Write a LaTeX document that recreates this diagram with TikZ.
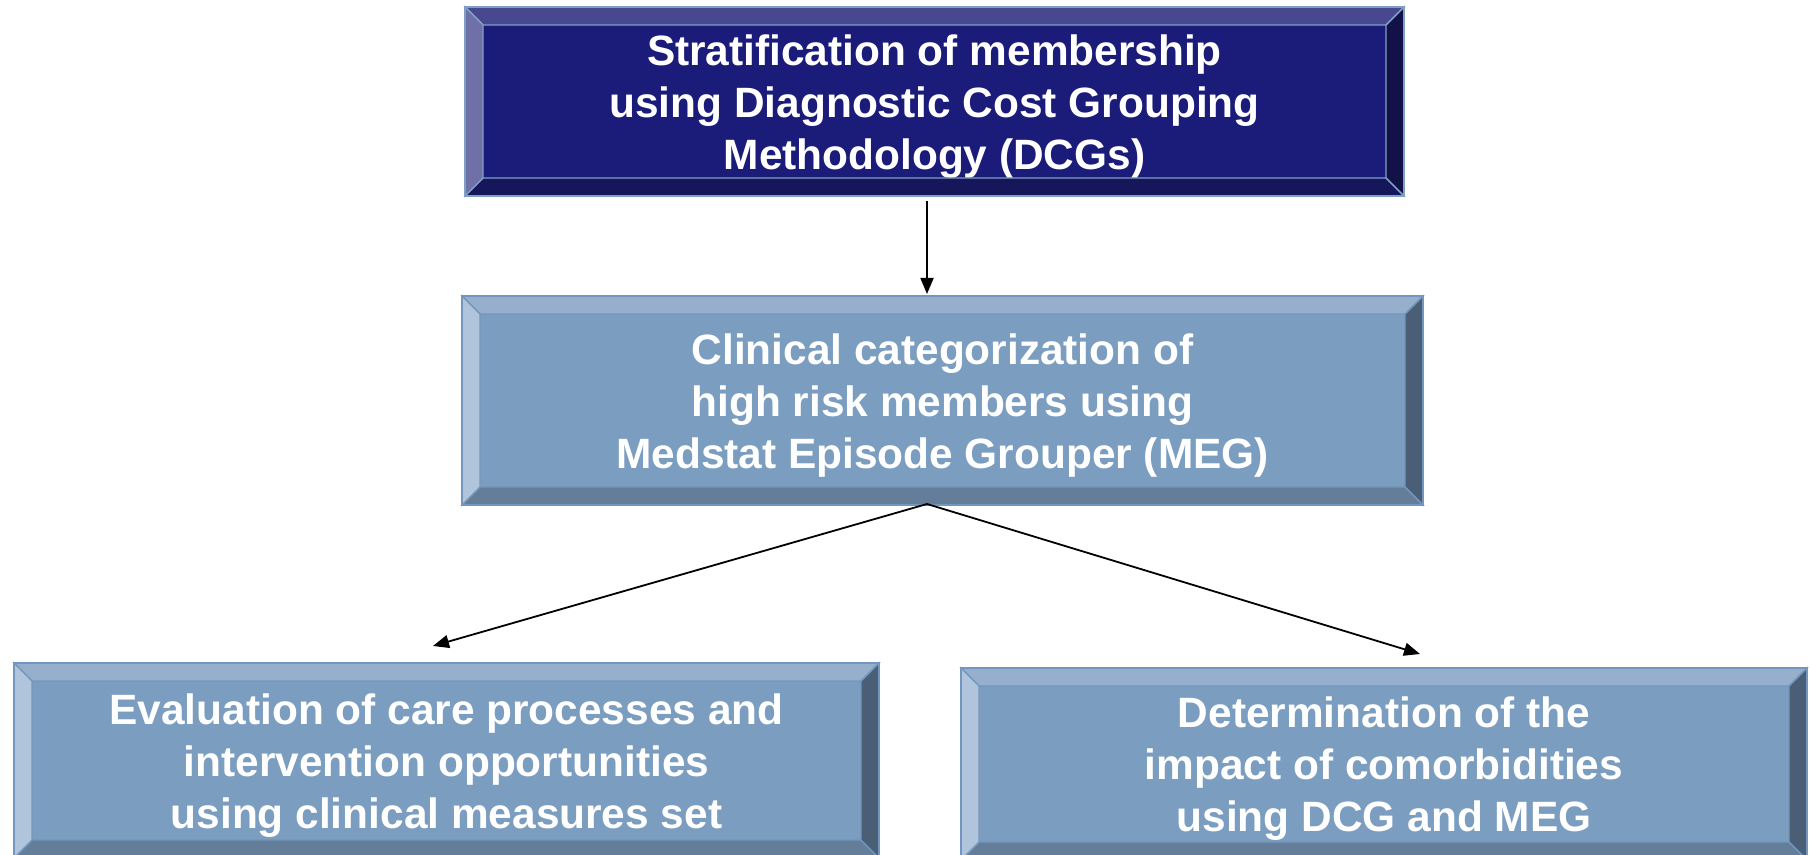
\documentclass[tikz,border=0pt]{standalone}
\usepackage{fontspec}
\setmainfont{Liberation Sans}
\usetikzlibrary{arrows.meta,calc}

% dark navy palette
\definecolor{navymain}{RGB}{27,27,122}
\definecolor{navytop}{RGB}{72,72,144}
\definecolor{navyleft}{RGB}{112,112,168}
\definecolor{navybot}{RGB}{22,22,90}
\definecolor{navyright}{RGB}{18,18,72}
\definecolor{navyedge}{RGB}{126,160,196}
% steel blue palette
\definecolor{steelmain}{RGB}{123,157,192}
\definecolor{steeltop}{RGB}{150,175,205}
\definecolor{steelleft}{RGB}{176,196,220}
\definecolor{steelbot}{RGB}{100,126,154}
\definecolor{steelright}{RGB}{74,94,118}
\definecolor{steeledge}{RGB}{114,150,190}

\tikzset{
  bevelnode/.style={draw=#1edge, line width=1pt, fill=#1main,
    inner sep=0pt, outer sep=0pt},
  boxlabel/.style={text=white, align=center, inner sep=0pt, yshift=-2.5pt,
    font=\bfseries\fontsize{21.2}{26}\selectfont},
  link/.style={-{Triangle[length=8pt,width=6.5pt]}, line width=0.9pt, black},
}

% raised bevel around a rectangular node: #1 node name, #2 palette
\newcommand\bevelframe[2]{%
  \filldraw[fill=#2top, draw=#2edge, line width=0.7pt]
    (#1.north west) -- (#1.north east) -- ([shift={(-18,18)}]#1.north east)
    -- ([shift={(18,18)}]#1.north west) -- cycle;
  \filldraw[fill=#2bot, draw=#2edge, line width=0.7pt]
    (#1.south west) -- (#1.south east) -- ([shift={(-18,-18)}]#1.south east)
    -- ([shift={(18,-18)}]#1.south west) -- cycle;
  \filldraw[fill=#2left, draw=#2edge, line width=0.7pt]
    (#1.north west) -- ([shift={(18,18)}]#1.north west)
    -- ([shift={(18,-18)}]#1.south west) -- (#1.south west) -- cycle;
  \filldraw[fill=#2right, draw=#2edge, line width=0.7pt]
    (#1.north east) -- ([shift={(-18,18)}]#1.north east)
    -- ([shift={(-18,-18)}]#1.south east) -- (#1.south east) -- cycle;
  \draw[#2edge, line width=1pt] (#1.north west) rectangle (#1.south east);
}

\begin{document}
\begin{tikzpicture}[x=0.5pt, y=-0.5pt]
  \useasboundingbox (0,0) rectangle (1810,855);

  \node[bevelnode=navy, minimum width=469.5pt, minimum height=94.5pt,
    label={[boxlabel]center:Stratification of membership\\using Diagnostic Cost Grouping\\Methodology (DCGs)}]
    (top) at (934.5,101.5) {};
  \bevelframe{top}{navy}

  \node[bevelnode=steel, minimum width=480.5pt, minimum height=104.5pt,
    label={[boxlabel]center:Clinical categorization of\\high risk members using\\Medstat Episode Grouper (MEG)}]
    (mid) at (942.5,400.5) {};
  \bevelframe{mid}{steel}

  \node[bevelnode=steel, minimum width=432.5pt, minimum height=97.5pt,
    label={[boxlabel]center:Evaluation of care processes and\\intervention opportunities\\using clinical measures set}]
    (eval) at (446.5,760.5) {};
  \bevelframe{eval}{steel}

  \node[bevelnode=steel, minimum width=423pt, minimum height=96pt,
    label={[boxlabel]center:Determination of the\\impact of comorbidities\\using DCG and MEG}]
    (impact) at (1384,764) {};
  \bevelframe{impact}{steel}

  % connectors
  \coordinate (split) at ($(mid.south)+(-15.5,-1)$);
  \draw[link] ($(top.south)+(-7.5,5)$) -- ($(mid.north)+(-15.5,-2)$);
  \draw[link] (split) -- ($(eval.north)+(-13.5,-17)$);
  \draw[link] (split) -- ($(impact.north)+(36,-14)$);
\end{tikzpicture}
\end{document}
